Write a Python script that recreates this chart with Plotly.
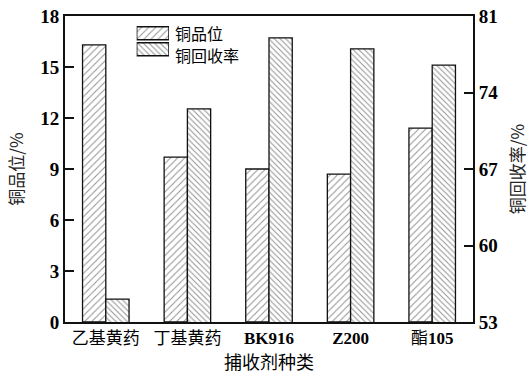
import plotly.graph_objects as go

# Collector types and measured results
collectors = ["乙基黄药", "丁基黄药", "BK916", "Z200", "酯105"]
collector_labels = ["乙基黄药", "丁基黄药", "<b>BK916</b>", "<b>Z200</b>", "酯<b>105</b>"]
cu_grade = [16.3, 9.7, 9.0, 8.7, 11.4]          # 铜品位 / %
cu_recovery = [55.1, 72.5, 79.0, 78.0, 76.5]    # 铜回收率 / %
series_names = ["铜品位", "铜回收率"]
grade_ticks = [0, 3, 6, 9, 12, 15, 18]
recovery_ticks = [53, 60, 67, 74, 81]

CJK = "Noto Sans CJK SC"
NUM = "Liberation Serif"
LINE = "#111111"

grade_pattern = dict(shape="/", fgcolor="#222222", bgcolor="white", size=5, solidity=0.2)
recovery_pattern = dict(shape="\\", fgcolor="#222222", bgcolor="white", size=4, solidity=0.25)

fig = go.Figure()

fig.add_trace(go.Bar(
    x=collectors, y=cu_grade, name=series_names[0], offsetgroup="g",
    marker=dict(color="white", pattern=grade_pattern, line=dict(color=LINE, width=1.3)),
    yaxis="y", showlegend=False,
))
fig.add_trace(go.Bar(
    x=collectors, y=cu_recovery, name=series_names[1], offsetgroup="r",
    marker=dict(color="white", pattern=recovery_pattern, line=dict(color=LINE, width=1.3)),
    yaxis="y2", showlegend=False,
))

# Legend swatches drawn on a small auxiliary axis pair
for i, (name, pat) in enumerate(zip(series_names, [grade_pattern, recovery_pattern])):
    fig.add_trace(go.Bar(
        x=[1], y=[1 - i], orientation="h", width=0.8, offsetgroup="leg",
        marker=dict(color="white", pattern=pat, line=dict(color=LINE, width=1.5)),
        xaxis="x3", yaxis="y3", showlegend=False, hoverinfo="skip",
    ))
    fig.add_annotation(
        x=0.264, y=0.943 - i * 0.072, xref="paper", yref="paper",
        text=name, showarrow=False, xanchor="left", yanchor="middle",
        font=dict(family=CJK, size=16, color="black"),
    )

axis_common = dict(showline=True, linecolor=LINE, linewidth=2, showgrid=False,
                   zeroline=False, automargin=False)
num_font = dict(family=NUM, size=19, color="black")

fig.update_layout(
    width=529, height=379,
    margin=dict(l=65, r=56, t=16, b=57),
    plot_bgcolor="white", paper_bgcolor="white",
    barmode="group", bargap=0.43, bargroupgap=0,
    showlegend=False,
    xaxis=dict(
        **axis_common, mirror=True, ticks="",
        tickvals=collectors, ticktext=collector_labels,
        tickfont=dict(family=f"{NUM}, {CJK}", size=17, color="black"),
        title=dict(text="捕收剂种类", font=dict(family=CJK, size=18, color="black"), standoff=4),
    ),
    yaxis=dict(
        **axis_common, range=[0, 18], tickvals=grade_ticks,
        ticktext=[f"<b>{v}</b>" for v in grade_ticks],
        ticks="inside", ticklen=9, tickwidth=2, tickcolor=LINE,
        tickfont=num_font,
        title=dict(text="铜品位/%", font=dict(family=CJK, size=17, color="#222222"), standoff=12),
    ),
    yaxis2=dict(
        **axis_common, overlaying="y", side="right", range=[53, 81], tickvals=recovery_ticks,
        ticktext=[f"<b>{v}</b>" for v in recovery_ticks],
        ticks="inside", ticklen=9, tickwidth=2, tickcolor=LINE,
        tickfont=num_font,
        title=dict(text="铜回收率/%", font=dict(family=CJK, size=17, color="#222222"), standoff=22),
    ),
    xaxis3=dict(domain=[0.1757, 0.2549], range=[0, 1], visible=False, fixedrange=True, anchor="y3"),
    yaxis3=dict(domain=[0.865, 0.97], range=[-0.5, 1.5], visible=False, fixedrange=True, anchor="x3"),
)

fig.write_html("out.html")
